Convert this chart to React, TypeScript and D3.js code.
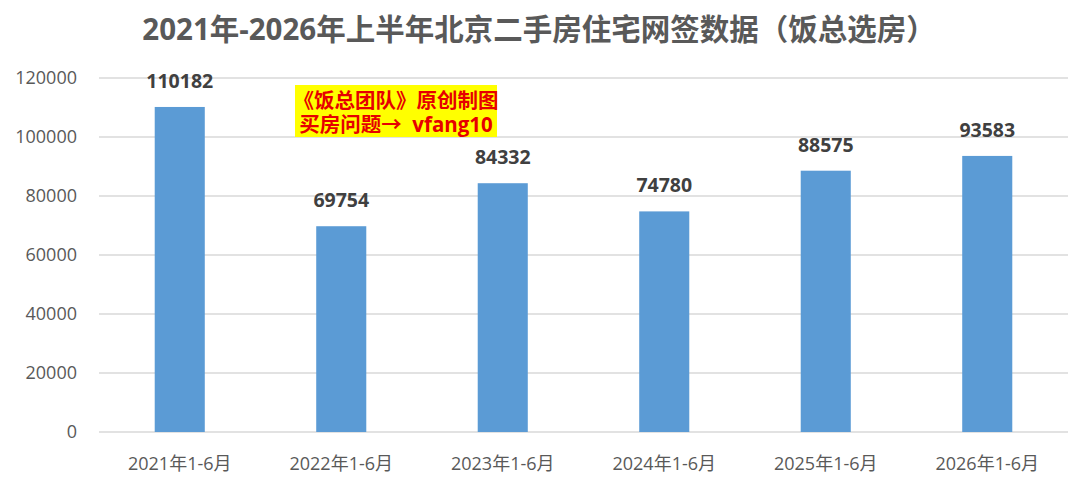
import React, { useEffect, useRef } from "react";
import * as d3 from "d3";

// values
const categories = [
    "2021年1-6月",
    "2022年1-6月",
    "2023年1-6月",
    "2024年1-6月",
    "2025年1-6月",
    "2026年1-6月",
];
const values = [110182, 69754, 84332, 74780, 88575, 93583];
const yTicks = [0, 20000, 40000, 60000, 80000, 100000, 120000];

const title = "2021年-2026年上半年北京二手房住宅网签数据（饭总选房）";
const noteLines = ["《饭总团队》原创制图", "买房问题→  vfang10"];

const FONT = '"Open Sans", "Noto Sans CJK SC", sans-serif';

const App: React.FC = () => {
    const ref = useRef<SVGSVGElement>(null);

    useEffect(() => {
        const svg = d3.select(ref.current);
        svg.selectAll("*").remove();

        const W = 1080;
        const H = 485;
        const margin = { top: 78, right: 12, bottom: 53, left: 99 };

        const x = d3
            .scaleBand<string>()
            .domain(categories)
            .range([margin.left, W - margin.right])
            .paddingInner(0.69)
            .paddingOuter(0.345);
        const y = d3
            .scaleLinear()
            .domain([0, 120000])
            .range([H - margin.bottom, margin.top]);

        svg.append("rect").attr("width", W).attr("height", H).attr("fill", "#fff");

        // title
        svg.append("text")
            .attr("x", 539)
            .attr("y", 40)
            .attr("text-anchor", "middle")
            .style("font-family", FONT)
            .style("font-size", "29.5px")
            .style("font-weight", "bold")
            .attr("fill", "#595959")
            .text(title);

        // gridlines
        svg.append("g")
            .selectAll("line")
            .data(yTicks)
            .enter()
            .append("line")
            .attr("x1", margin.left)
            .attr("x2", W - margin.right)
            .attr("y1", (d) => y(d))
            .attr("y2", (d) => y(d))
            .attr("stroke", "#d9d9d9")
            .attr("stroke-width", 1.3);

        // y labels
        svg.append("g")
            .selectAll("text")
            .data(yTicks)
            .enter()
            .append("text")
            .attr("x", 77)
            .attr("y", (d) => y(d))
            .attr("dy", "0.36em")
            .attr("text-anchor", "end")
            .style("font-family", FONT)
            .style("font-size", "18px")
            .attr("fill", "#595959")
            .text((d) => String(d));

        // bars
        svg.append("g")
            .selectAll("rect")
            .data(values)
            .enter()
            .append("rect")
            .attr("x", (_, i) => x(categories[i])!)
            .attr("y", (d) => y(d))
            .attr("width", x.bandwidth())
            .attr("height", (d) => y(0) - y(d))
            .attr("fill", "#5b9bd5");

        // value labels
        svg.append("g")
            .selectAll("text")
            .data(values)
            .enter()
            .append("text")
            .attr("x", (_, i) => x(categories[i])! + x.bandwidth() / 2)
            .attr("y", (d) => y(d) - 19)
            .attr("text-anchor", "middle")
            .style("font-family", FONT)
            .style("font-size", "19.5px")
            .style("font-weight", "bold")
            .attr("fill", "#404040")
            .text((d) => String(d));

        // x labels
        svg.append("g")
            .selectAll("text")
            .data(categories)
            .enter()
            .append("text")
            .attr("x", (d) => x(d)! + x.bandwidth() / 2)
            .attr("y", 470)
            .attr("text-anchor", "middle")
            .style("font-family", FONT)
            .style("font-size", "18px")
            .attr("fill", "#595959")
            .text((d) => d);

        // watermark note (one text, two lines)
        const note = svg.append("g");
        note.append("rect")
            .attr("x", 295)
            .attr("y", 85)
            .attr("width", 202)
            .attr("height", 52)
            .attr("fill", "#ffff00");
        const noteText = note
            .append("text")
            .attr("text-anchor", "middle")
            .style("font-family", FONT)
            .style("font-size", "20.5px")
            .style("font-weight", "bold")
            .style("white-space", "pre")
            .attr("fill", "#e60000");
        noteText
            .selectAll("tspan")
            .data(noteLines)
            .enter()
            .append("tspan")
            .attr("x", 396)
            .attr("y", (_, i) => 108 + i * 24)
            .text((d) => d);
    }, []);

    return (
        <svg
            ref={ref}
            width={1080}
            height={485}
            style={{ position: "absolute", left: 0, top: 0 }}
        />
    );
};

export default App;
